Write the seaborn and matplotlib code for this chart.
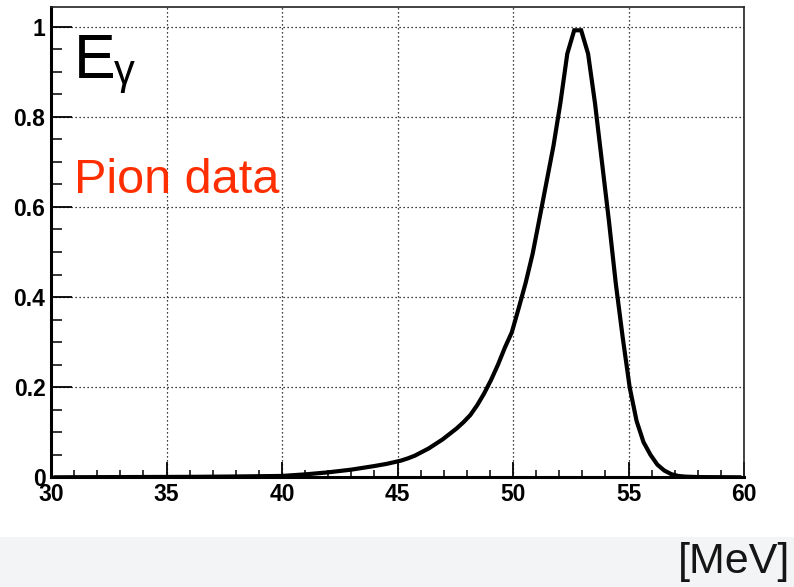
import matplotlib
matplotlib.use("Agg")
import matplotlib.pyplot as plt
from matplotlib.ticker import MultipleLocator, FixedLocator, FixedFormatter
from matplotlib.patches import Rectangle
import seaborn as sns
import pandas as pd

# Photon energy spectrum from pion data (normalised), sampled along the curve
energy_mev = [30.15, 33.0, 36.0, 38.0, 40.0, 41.0, 42.0, 43.0, 44.0, 44.55,
              45.15, 45.45, 45.75, 46.05, 46.35, 46.65, 46.95, 47.25, 47.55, 47.85,
              48.15, 48.45, 48.75, 49.05, 49.35, 49.65, 49.95, 50.25, 50.55, 50.85,
              51.15, 51.45, 51.75, 52.05, 52.35, 52.65, 52.95, 53.25, 53.55, 53.85,
              54.15, 54.45, 54.75, 55.05, 55.35, 55.65, 55.95, 56.25, 56.55, 56.85,
              57.15, 57.45, 58.0, 59.85]
intensity = [0.0, 0.0005, 0.001, 0.0018, 0.003, 0.0065, 0.011, 0.017, 0.025, 0.030,
             0.037, 0.042, 0.048, 0.056, 0.064, 0.074, 0.084, 0.096, 0.108, 0.122,
             0.138, 0.160, 0.186, 0.216, 0.250, 0.288, 0.322, 0.376, 0.432, 0.496,
             0.575, 0.655, 0.735, 0.830, 0.940, 0.992, 0.992, 0.940, 0.830, 0.700,
             0.570, 0.430, 0.310, 0.200, 0.125, 0.078, 0.050, 0.028, 0.015, 0.007,
             0.003, 0.0015, 0.0005, 0.0]

x_ticks = [30, 35, 40, 45, 50, 55, 60]
y_ticks = [0, 0.2, 0.4, 0.6, 0.8, 1.0]
y_tick_labels = ["0", "0.2", "0.4", "0.6", "0.8", "1"]

df = pd.DataFrame({"E": energy_mev, "I": intensity})

sns.set_style("white")
plt.rcParams["font.family"] = ["Liberation Sans", "DejaVu Sans"]

W, H = 794, 587
fig = plt.figure(figsize=(W / 100, H / 100), dpi=100)

# light band at the bottom carrying the unit label
fig.patches.append(Rectangle((0, 0), 1, 50 / H, transform=fig.transFigure,
                             facecolor="#f3f4f6", edgecolor="none", zorder=0))

ax = fig.add_axes([51 / W, 1 - 477.3 / H, (744 - 51) / W, (477.3 - 7.3) / H])
ax.set_facecolor("white")

sns.lineplot(data=df, x="E", y="I", ax=ax, color="black", lw=3.0,
             solid_joinstyle="miter", zorder=3)

ax.set_xlim(30, 60)
ax.set_ylim(0, 1.043)
ax.set_xlabel("")
ax.set_ylabel("")

ax.xaxis.set_major_locator(FixedLocator(x_ticks))
ax.xaxis.set_minor_locator(MultipleLocator(1))
ax.yaxis.set_major_locator(FixedLocator(y_ticks))
ax.yaxis.set_major_formatter(FixedFormatter(y_tick_labels))
ax.yaxis.set_minor_locator(MultipleLocator(0.05))

ax.tick_params(bottom=True, left=True, top=False, right=False, which="both")
ax.tick_params(axis="x", which="major", direction="in", length=11, width=1.3,
               labelsize=16.5, pad=4, colors="black")
ax.tick_params(axis="x", which="minor", direction="in", length=5, width=1.1,
               colors="black")
ax.tick_params(axis="y", which="major", direction="in", length=15, width=1.3,
               labelsize=16.5, pad=4, colors="black")
ax.tick_params(axis="y", which="minor", direction="in", length=8, width=1.1,
               colors="black")
for lab in ax.get_xticklabels() + ax.get_yticklabels():
    lab.set_fontweight("bold")

ax.grid(True, which="major", color="black", lw=0.9, linestyle=(0, (1, 2.2)))

for side in ["left", "bottom"]:
    ax.spines[side].set_linewidth(2.2)
    ax.spines[side].set_color("black")
for side in ["top", "right"]:
    ax.spines[side].set_linewidth(1.2)
    ax.spines[side].set_color("#222222")
    ax.spines[side].set_visible(True)

# variable name
fig.text(74 / W, 1 - 78 / H, "E", fontsize=45, color="black", va="baseline")
fig.text(114 / W, 1 - 84 / H, "γ", fontsize=30, color="black", va="baseline")

fig.text(74 / W, 1 - 193 / H, "Pion data", fontsize=35, color="#ff2e00",
         va="baseline")

fig.text(790 / W, 1 - 573 / H, "[MeV]", fontsize=31, color="#151515",
         va="baseline", ha="right")

fig.savefig("out.png", dpi=100)
